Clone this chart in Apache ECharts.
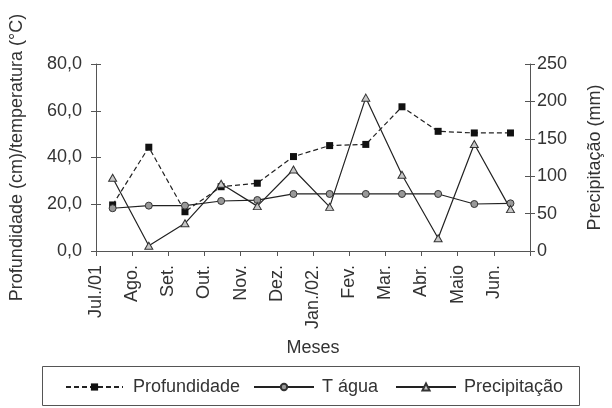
<!DOCTYPE html>
<html>
<head>
<meta charset="utf-8">
<script src="https://cdn.jsdelivr.net/npm/echarts@6/dist/echarts.min.js"></script>
<style>
html,body{margin:0;padding:0;background:#fff;}
#chart{width:612px;height:408px;}
</style>
</head>
<body>
<div id="chart"></div>
<script>
const months = ['Jul./01','Ago.','Set.','Out.','Nov.','Dez.','Jan./02.','Fev.','Mar.','Abr.','Maio','Jun.'];
const profundidade = [19.7, 44.4, 16.8, 27.5, 29.0, 40.4, 45.1, 45.6, 61.7, 51.2, 50.5, 50.5];
const tAgua = [18.3, 19.4, 19.4, 21.4, 21.8, 24.4, 24.4, 24.4, 24.4, 24.4, 20.1, 20.4];
const precipitacao = [98, 7, 37, 90, 60, 109, 59, 205, 102, 17, 143, 56];
const leftAxis = {min: 0, max: 80, interval: 20};
const rightAxis = {min: 0, max: 250, interval: 50};

const FONT = 'Liberation Sans, Arial, sans-serif';
const TXT = '#333';
const AX = '#555';
const pos = i => i + 0.46;
const pts = arr => arr.map((v, i) => [pos(i), v]);

const chart = echarts.init(document.getElementById('chart'));
chart.setOption({
  animation: false,
  textStyle: {fontFamily: FONT, color: TXT},
  grid: {left: 92, right: 77, top: 64, bottom: 157},
  graphic: [{
    type: 'rect', left: 40, top: 364,
    shape: {width: 537, height: 39},
    style: {fill: 'none', stroke: '#555', lineWidth: 1}
  }],
  legend: [
    {data: ['Profundidade'], left: 65, top: 378, padding: 0, itemWidth: 57, itemHeight: 9,
     textStyle: {fontSize: 18, color: TXT, fontFamily: FONT, padding: [0,0,0,5]}},
    {data: ['T água'], left: 253, top: 378, padding: 0, itemWidth: 60, itemHeight: 8,
     textStyle: {fontSize: 18, color: TXT, fontFamily: FONT, padding: [0,0,0,3]}},
    {data: ['Precipitação'], left: 395, top: 378, padding: 0, itemWidth: 60, itemHeight: 9,
     textStyle: {fontSize: 18, color: TXT, fontFamily: FONT, padding: [0,0,0,3]}}
  ],
  xAxis: {
    type: 'value', min: 0, max: 12, interval: 1,
    name: 'Meses', nameLocation: 'middle', nameGap: 88,
    nameTextStyle: {fontSize: 18, color: TXT, fontFamily: FONT},
    axisLine: {onZero: false, lineStyle: {color: AX, width: 1}},
    axisTick: {length: 5, lineStyle: {color: AX}},
    splitLine: {show: false},
    axisLabel: {rotate: 90, margin: 14, fontSize: 18, color: TXT, fontFamily: FONT,
      formatter: v => months[v] !== undefined ? months[v] : ''}
  },
  yAxis: [
    {type: 'value', position: 'left', min: leftAxis.min, max: leftAxis.max, interval: leftAxis.interval,
     name: 'Profundidade (cm)/temperatura (°C)', nameLocation: 'middle', nameGap: 70, nameRotate: 90,
     nameTextStyle: {fontSize: 18, color: TXT, fontFamily: FONT},
     axisLine: {show: true, lineStyle: {color: AX}},
     axisTick: {show: true, length: 5, lineStyle: {color: AX}},
     splitLine: {show: false},
     axisLabel: {margin: 14, fontSize: 18, color: TXT, fontFamily: FONT,
       formatter: v => v.toFixed(1).replace('.', ',')}},
    {type: 'value', position: 'right', min: rightAxis.min, max: rightAxis.max, interval: rightAxis.interval,
     name: 'Precipitação (mm)', nameLocation: 'middle', nameGap: 56, nameRotate: 90,
     nameTextStyle: {fontSize: 18, color: TXT, fontFamily: FONT},
     axisLine: {show: true, lineStyle: {color: AX}},
     axisTick: {show: true, length: 5, lineStyle: {color: AX}},
     splitLine: {show: false},
     axisLabel: {margin: 7, fontSize: 18, color: TXT, fontFamily: FONT}},
    {type: 'value', position: 'left', min: leftAxis.min, max: leftAxis.max, interval: leftAxis.interval,
     axisLine: {show: false}, axisLabel: {show: false}, splitLine: {show: false},
     axisTick: {show: true, inside: true, length: 5, lineStyle: {color: AX}}},
    {type: 'value', position: 'right', min: rightAxis.min, max: rightAxis.max, interval: rightAxis.interval,
     axisLine: {show: false}, axisLabel: {show: false}, splitLine: {show: false},
     axisTick: {show: true, inside: true, length: 5, lineStyle: {color: AX}}}
  ],
  series: [
    {name: 'Profundidade', type: 'line', yAxisIndex: 0, data: pts(profundidade),
     symbol: 'rect', symbolSize: 7,
     lineStyle: {color: '#222', width: 1.2, type: [5, 3]},
     itemStyle: {color: '#111', borderColor: '#111', borderWidth: 0}},
    {name: 'T água', type: 'line', yAxisIndex: 0, data: pts(tAgua),
     symbol: 'circle', symbolSize: 7,
     lineStyle: {color: '#222', width: 1.2},
     itemStyle: {color: '#999', borderColor: '#333', borderWidth: 1}},
    {name: 'Precipitação', type: 'line', yAxisIndex: 1, data: pts(precipitacao),
     symbol: 'triangle', symbolSize: [8, 7],
     lineStyle: {color: '#222', width: 1.2},
     itemStyle: {color: '#c8c8c8', borderColor: '#333', borderWidth: 1}}
  ]
});
</script>
</body>
</html>
